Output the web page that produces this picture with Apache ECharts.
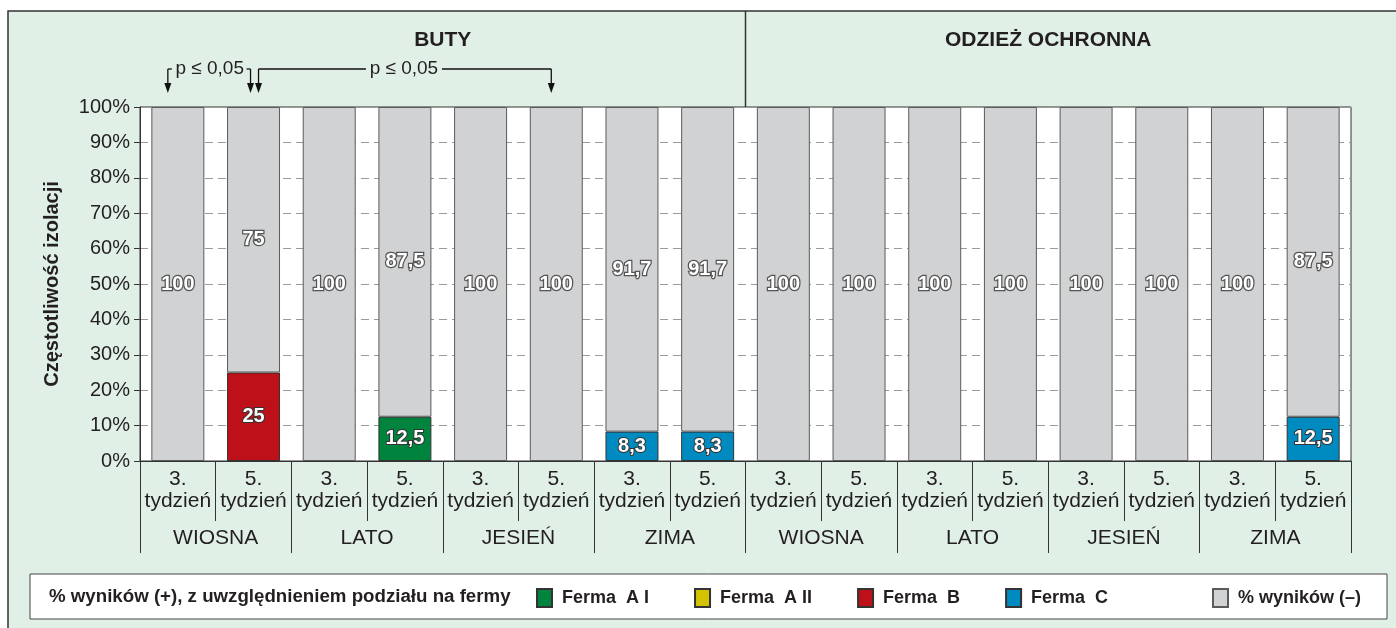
<!DOCTYPE html>
<html>
<head>
<meta charset="utf-8">
<script src="https://cdn.jsdelivr.net/npm/echarts@6/dist/echarts.min.js"></script>
<style>
  html,body{margin:0;padding:0;background:#fff;}
  #chart{width:1396px;height:628px;}
</style>
</head>
<body>
<div id="chart"></div>
<script>
  // dane
  const groups = ['BUTY', 'ODZIEŻ OCHRONNA']
  const seasons = ['WIOSNA', 'LATO', 'JESIEŃ', 'ZIMA', 'WIOSNA', 'LATO', 'JESIEŃ', 'ZIMA']
  const weeks = ['3.', '5.', '3.', '5.', '3.', '5.', '3.', '5.', '3.', '5.', '3.', '5.', '3.', '5.', '3.', '5.']
  const weekUnit = 'tydzień'
  const fermaAI  = [0, 0, 0, 12.5, 0, 0, 0, 0,   0, 0, 0, 0, 0, 0, 0, 0]
  const fermaAII = [0, 0, 0, 0, 0, 0, 0, 0,      0, 0, 0, 0, 0, 0, 0, 0]
  const fermaB   = [0, 25, 0, 0, 0, 0, 0, 0,     0, 0, 0, 0, 0, 0, 0, 0]
  const fermaC   = [0, 0, 0, 0, 0, 0, 8.3, 8.3,  0, 0, 0, 0, 0, 0, 0, 12.5]
  const negative = [100, 75, 100, 87.5, 100, 100, 91.7, 91.7,  100, 100, 100, 100, 100, 100, 100, 87.5]
  const yTicks = [0, 10, 20, 30, 40, 50, 60, 70, 80, 90, 100]
  const pLabel = 'p ≤ 0,05'

  const FONT = '"Liberation Sans", Arial, Helvetica, sans-serif'
  const TXT = '#231f20'
  const LINE = '#333333'

  let myChart = echarts.init(document.getElementById('chart'))

  function fmt(p){
    return p.value ? String(p.value).replace('.', ',') : ''
  }

  function posBar(name, color, data){
    return {
      name: name,
      type: 'bar',
      stack: 'all',
      barWidth: '70%',
      xAxisIndex: 0,
      itemStyle: { color: color, borderColor: '#333', borderWidth: 1 },
      label: {
        show: true,
        position: 'inside',
        formatter: fmt,
        color: '#fff',
        fontSize: 20,
        fontWeight: 'bold',
        textBorderColor: '#333',
        textBorderWidth: 2
      },
      data: data.map(v => v || null)
    }
  }

  let option = {
    backgroundColor: '#fff',
    animation: false,
    textStyle: { fontFamily: FONT, color: TXT },
    grid: {
      left: 140, right: 45, top: 107, bottom: 167,
      show: true, backgroundColor: '#fff', borderColor: LINE, borderWidth: 1
    },
    legend: [
      {
        data: ['Ferma  A I', 'Ferma  A II', 'Ferma  B', 'Ferma  C'],
        left: 536, top: 588, padding: 0,
        itemWidth: 15, itemHeight: 18, itemGap: 45,
        icon: 'rect',
        selectedMode: false,
        textStyle: { fontSize: 18, fontWeight: 'bold', color: TXT, fontFamily: FONT, padding: [0, 0, 0, 5] }
      },
      {
        data: ['% wyników (–)'],
        left: 1212, top: 588, padding: 0,
        itemWidth: 15, itemHeight: 18,
        icon: 'rect',
        selectedMode: false,
        textStyle: { fontSize: 18, fontWeight: 'bold', color: TXT, fontFamily: FONT, padding: [0, 0, 0, 5] }
      }
    ],
    xAxis: [
      {
        type: 'category',
        position: 'bottom',
        data: weeks,
        axisLine: { show: true, lineStyle: { color: LINE, width: 1 } },
        axisTick: { show: true, interval: 0, length: 60, lineStyle: { color: LINE } },
        axisLabel: {
          interval: 0, margin: 7, fontSize: 21, lineHeight: 22, color: TXT,
          formatter: v => v + '\n' + weekUnit
        },
        splitLine: { show: false }
      },
      {
        type: 'category',
        position: 'bottom',
        data: seasons,
        axisLine: { show: false },
        axisTick: { show: true, interval: 0, length: 92, lineStyle: { color: LINE } },
        axisLabel: { interval: 0, margin: 67, fontSize: 21, color: TXT }
      },
      {
        type: 'category',
        position: 'top',
        data: groups,
        axisLine: { show: false },
        axisTick: { show: false },
        axisLabel: { interval: 0, margin: 56, fontSize: 21, fontWeight: 'bold', color: TXT }
      }
    ],
    yAxis: {
      type: 'value',
      min: 0, max: 100, interval: 10,
      name: 'Częstotliwość izolacji',
      nameLocation: 'middle',
      nameGap: 78,
      nameTextStyle: { fontSize: 20, fontWeight: 'bold', color: TXT },
      axisLine: { show: true, lineStyle: { color: LINE } },
      axisTick: { show: true, length: 6, lineStyle: { color: LINE } },
      axisLabel: { margin: 10, fontSize: 20, color: TXT, formatter: v => yTicks.indexOf(v) >= 0 ? v + '%' : '' },
      splitLine: { show: true, lineStyle: { color: '#9a9a9a', type: [8, 5], width: 1 } }
    },
    series: [
      posBar('Ferma  A I', '#00843d', fermaAI),
      posBar('Ferma  A II', '#d4c300', fermaAII),
      posBar('Ferma  B', '#be1018', fermaB),
      posBar('Ferma  C', '#008bc0', fermaC),
      {
        name: '% wyników (–)',
        type: 'bar',
        stack: 'all',
        barWidth: '70%',
        itemStyle: { color: '#d1d2d4', borderColor: '#5a5a5a', borderWidth: 1 },
        label: {
          show: true,
          position: 'inside',
          formatter: fmt,
          color: '#fff',
          fontSize: 20,
          fontWeight: 'bold',
          textBorderColor: '#555',
          textBorderWidth: 2.5
        },
        data: negative
      }
    ]
  }

  myChart.setOption(option)

  // ramka, separator grup, adnotacje p <= 0,05 i ramka legendy
  let cx = i => myChart.convertToPixel({ xAxisIndex: 0 }, i)
  let plotTop = myChart.convertToPixel({ yAxisIndex: 0 }, 100)
  let yT = plotTop - 38
  let tip = plotTop - 14
  let mid = (cx(7) + cx(8)) / 2

  function arrow(x){
    return [
      { type: 'line', shape: { x1: x, y1: yT, x2: x, y2: tip - 8 }, style: { stroke: '#111', lineWidth: 1.3 } },
      { type: 'polygon', shape: { points: [[x - 3.5, tip - 10], [x + 3.5, tip - 10], [x, tip]] }, style: { fill: '#111' } }
    ]
  }
  function hline(x1, x2){
    return { type: 'line', shape: { x1: x1, y1: yT, x2: x2, y2: yT }, style: { stroke: '#111', lineWidth: 1.3 } }
  }
  function ptext(x){
    return { type: 'text', x: x, y: yT, style: { text: pLabel, font: '19px ' + FONT, fill: TXT, align: 'center', verticalAlign: 'middle' } }
  }

  let t1 = (cx(0) + cx(1)) / 2 - 6
  let a1 = cx(0) - 10, a2 = cx(1) - 3, a3 = cx(1) + 5, a4 = cx(5) - 5
  let t2 = cx(3) - 1

  let elements = [
    { type: 'rect', z: -10, shape: { x: 8, y: 11, width: 1420, height: 640 },
      style: { fill: '#e1f0e6', stroke: '#333', lineWidth: 1.5 } },
    { type: 'line', shape: { x1: mid, y1: 11, x2: mid, y2: plotTop }, style: { stroke: '#333', lineWidth: 1.5 } },
    { type: 'rect', shape: { x: 30, y: 574, width: 1357, height: 45 },
      style: { fill: '#fff', stroke: '#444', lineWidth: 1 } },
    { type: 'text', x: 49, y: 597, style: { text: '% wyników (+), z uwzględnieniem podziału na fermy', font: 'bold 18.7px ' + FONT, fill: TXT, verticalAlign: 'middle' } },
    hline(a1, a1 + 4), ptext(t1), hline(a2 - 4, a2),
    hline(a3, t2 - 38), ptext(t2), hline(t2 + 38, a4)
  ].concat(arrow(a1), arrow(a2), arrow(a3), arrow(a4))

  myChart.setOption({ graphic: { elements: elements } })
</script>
</body>
</html>
